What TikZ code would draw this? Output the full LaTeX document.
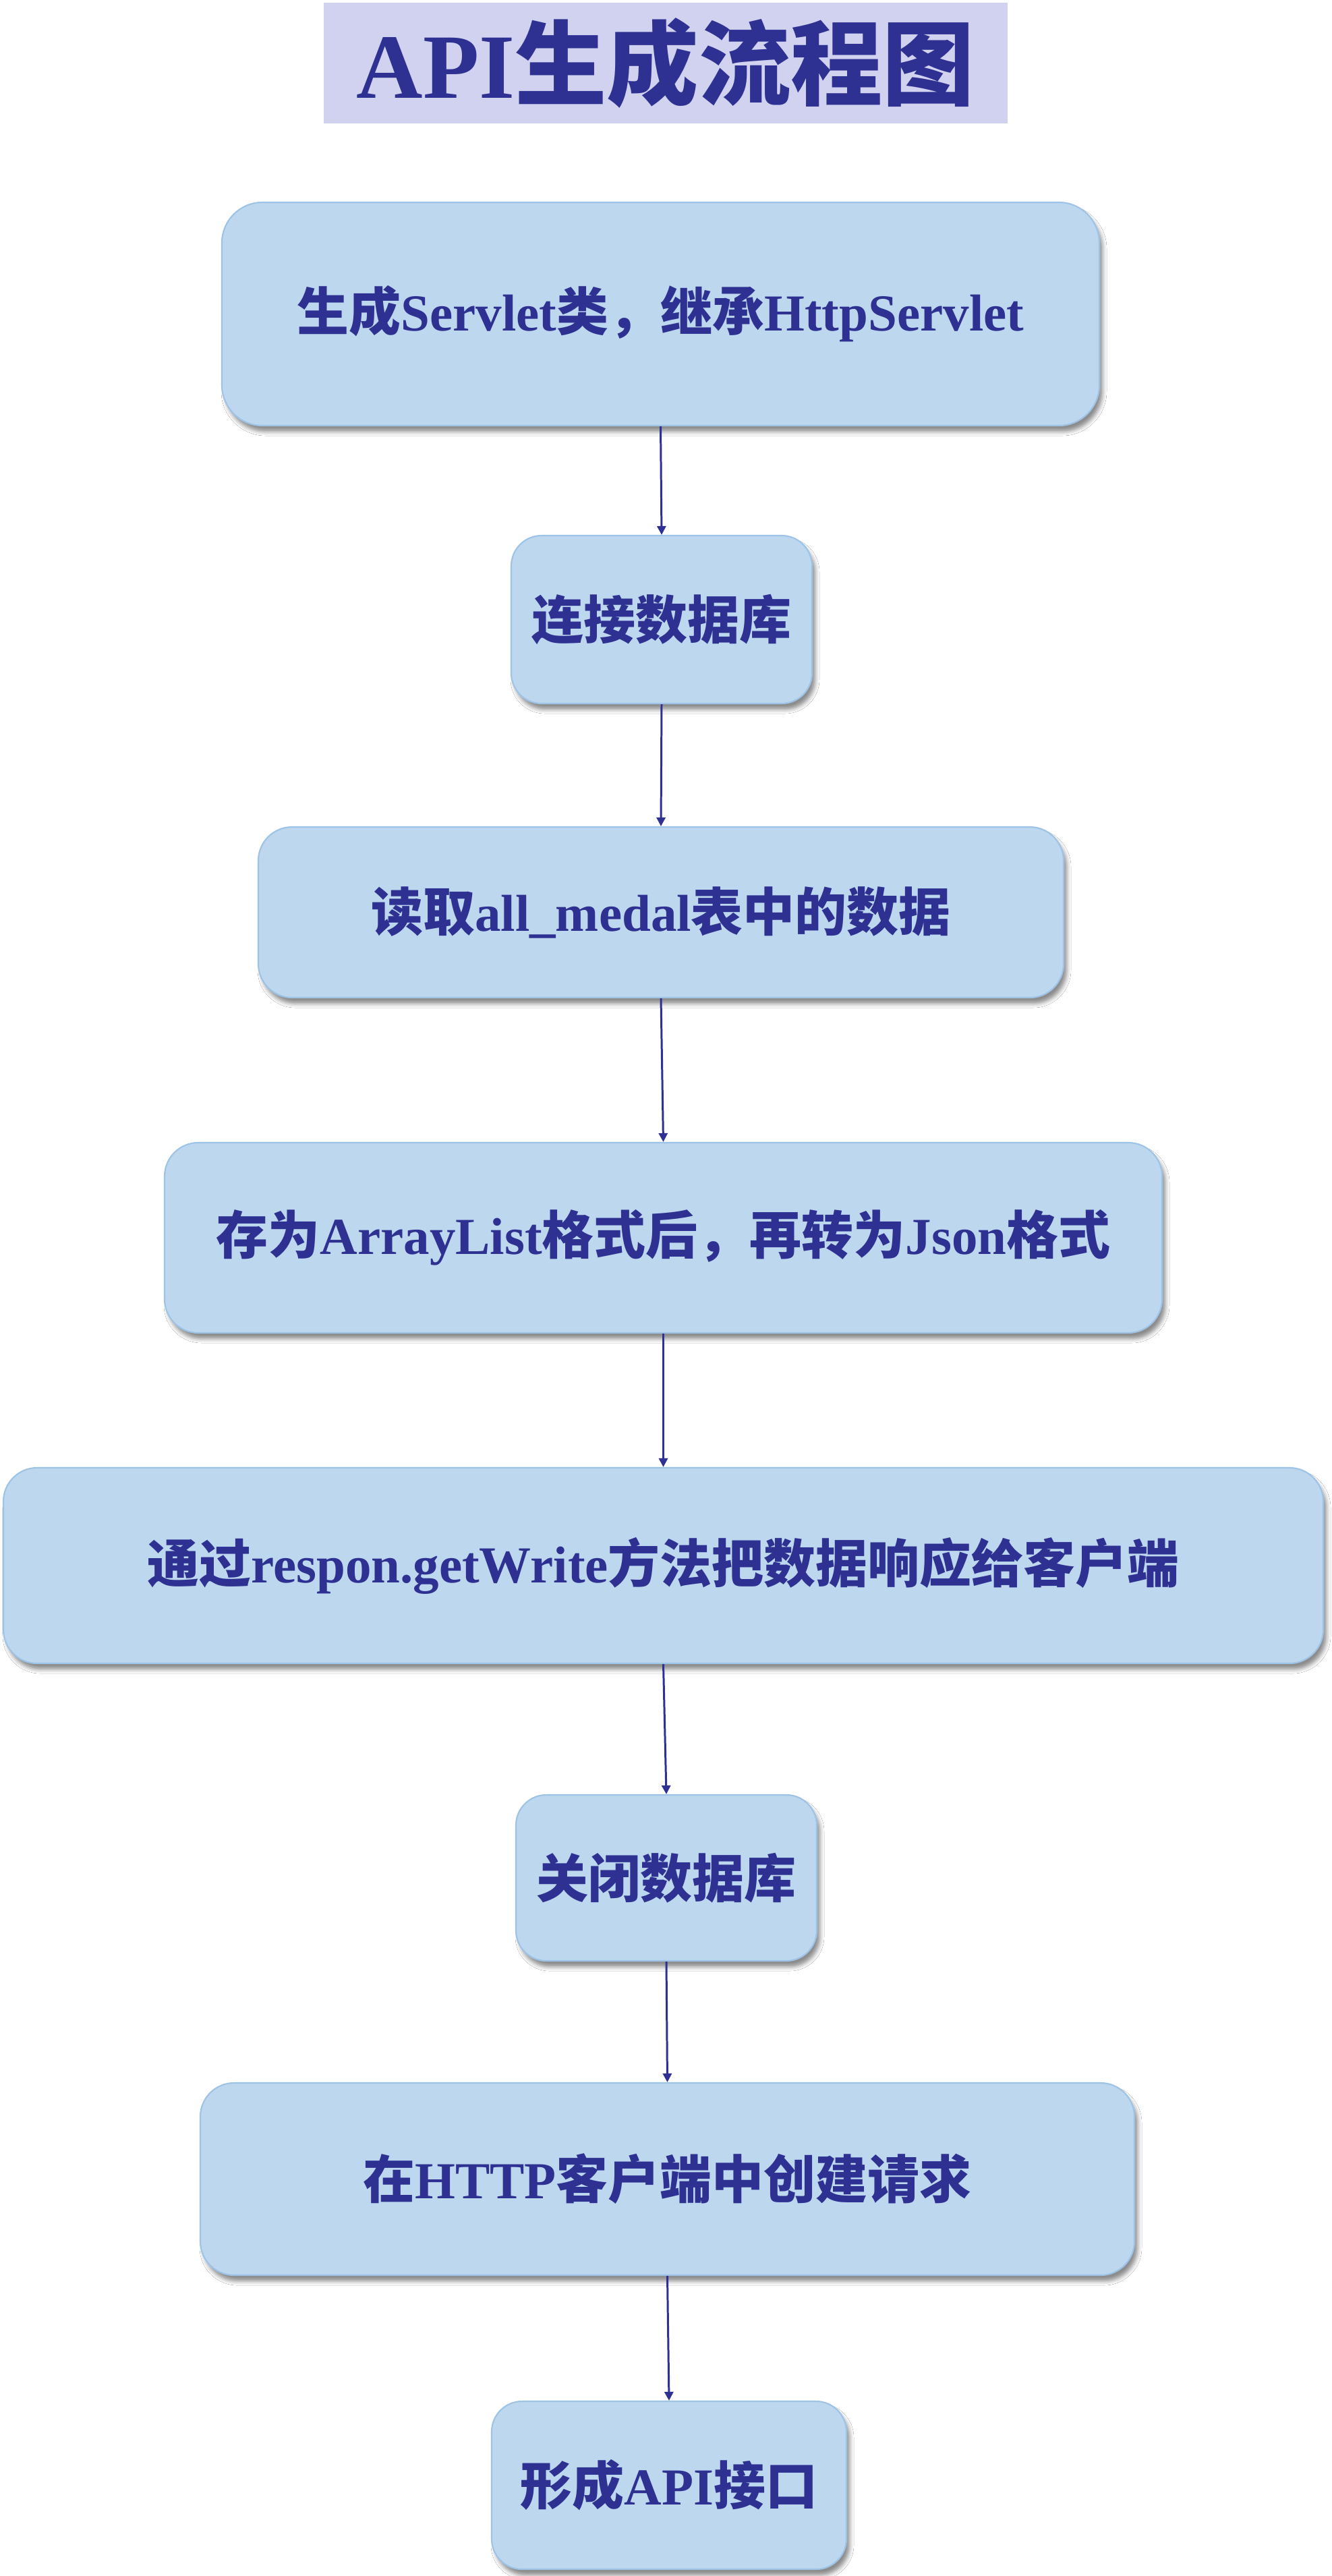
\documentclass[tikz,border=0pt]{standalone}
\usepackage{fontspec}
\setmainfont{Liberation Serif}
\newfontfamily\cjk{Noto Sans CJK SC}
\usetikzlibrary{arrows.meta,shadows.blur}
\newcommand\zh[1]{{\cjk\bfseries #1}}
\definecolor{txtblue}{HTML}{2E3192}
\definecolor{boxfill}{HTML}{BDD7EE}
\definecolor{boxline}{HTML}{9DC3E6}
\definecolor{titlebg}{HTML}{D0D2F0}
\tikzset{
  flowbox/.style={draw=boxline, line width=0.6pt, fill=boxfill, inner sep=0pt,
    text=txtblue, font=\fontsize{21.9}{25}\selectfont\bfseries,
    blur shadow={shadow xshift=0.05cm, shadow yshift=-0.09cm, shadow blur radius=0.06cm, shadow opacity=45}},
  flowarrow/.style={draw=txtblue, line width=0.85pt, -{Triangle[width=0.13cm,length=0.13cm]}}
}
\begin{document}
\begin{tikzpicture}
\useasboundingbox (0,0) rectangle (19.74,-38.19);
\fill[white] (0,0) rectangle (19.74,-38.19);
\node[fill=titlebg, minimum width=10.14cm, minimum height=1.79cm, inner sep=0pt,
  text=txtblue, font=\fontsize{38.8}{42}\selectfont\bfseries] (title) at (9.87,-0.935) {API\zh{生成流程图}};
\node[flowbox, minimum width=13.01cm, minimum height=3.31cm, rounded corners=0.6cm] (b1) at (9.795,-4.655) {\zh{生成}Servlet\zh{类，继承}HttpServlet};
\node[flowbox, minimum width=4.46cm, minimum height=2.49cm, rounded corners=0.45cm] (b2) at (9.81,-9.185) {\zh{连接数据库}};
\node[flowbox, minimum width=11.94cm, minimum height=2.53cm, rounded corners=0.5cm] (b3) at (9.80,-13.525) {\zh{读取}all\_medal\zh{表中的数据}};
\node[flowbox, minimum width=14.79cm, minimum height=2.82cm, rounded corners=0.5cm] (b4) at (9.835,-18.35) {\zh{存为}ArrayList\zh{格式后，再转为}Json\zh{格式}};
\node[flowbox, minimum width=19.57cm, minimum height=2.90cm, rounded corners=0.5cm] (b5) at (9.835,-23.21) {\zh{通过}respon.getWrite\zh{方法把数据响应给客户端}};
\node[flowbox, minimum width=4.46cm, minimum height=2.46cm, rounded corners=0.45cm] (b6) at (9.88,-27.84) {\zh{关闭数据库}};
\node[flowbox, minimum width=13.85cm, minimum height=2.85cm, rounded corners=0.5cm] (b7) at (9.895,-32.305) {\zh{在}HTTP\zh{客户端中创建请求}};
\node[flowbox, minimum width=5.26cm, minimum height=2.49cm, rounded corners=0.45cm] (b8) at (9.92,-36.845) {\zh{形成}API\zh{接口}};
\draw[flowarrow] (b1.south) -- (b2.north);
\draw[flowarrow] (b2.south) -- (b3.north);
\draw[flowarrow] (b3.south) -- (b4.north);
\draw[flowarrow] (b4.south) -- (b5.north);
\draw[flowarrow] (b5.south) -- (b6.north);
\draw[flowarrow] (b6.south) -- (b7.north);
\draw[flowarrow] (b7.south) -- (b8.north);
\end{tikzpicture}
\end{document}
